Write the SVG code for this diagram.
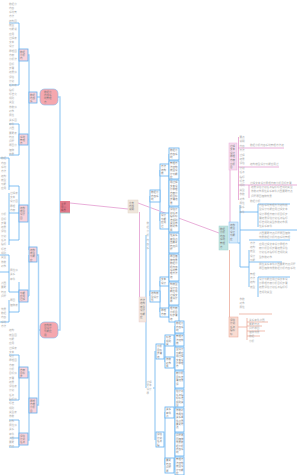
<svg xmlns="http://www.w3.org/2000/svg" width="300" height="475" viewBox="0 0 300 475">
<style>
.t{font-family:"Noto Sans CJK SC","Noto Sans",sans-serif;font-size:2.6px;fill:#ababab}
.tb{font-family:"Noto Sans CJK SC","Noto Sans",sans-serif;font-size:2.5px;fill:#7a7a7a}
.sp{fill:none;stroke:#a9d3f6;stroke-width:1.4}
.br{fill:none;stroke:#62b0f0;stroke-width:0.8}
.pk{fill:#f9d3db;stroke:#62b0f0;stroke-width:0.8}
.big{fill:#f5a7ae;stroke:#7cbcf2;stroke-width:0.6}
.wb{fill:#ffffff;stroke:#62b0f0;stroke-width:0.8}
.pl{fill:none;stroke:#e08cc8;stroke-width:0.7}
.sl{fill:none;stroke:#e9a08e;stroke-width:0.7}
</style>
<rect width="300" height="475" fill="#ffffff"/>

<g id="connectors">
  <path class="sp" d="M58 97 H60 V330 H58"/>
  <path class="sp" d="M60 207 H61"/>
  <path class="sp" d="M37 97 H40"/>
  <path class="sp" d="M40 330 H38.5 V255 H37 M38.5 330 V405 H37"/>
  <path class="sp" d="M28 55 H29 V250 M28 139.5 H29 M28 213 H29"/>
  <path class="sp" d="M28 296 H29 M29 255 V296"/>
  <path class="sp" d="M28 372 H29 V440 H28"/>
  <path class="br" d="M9 23 H19 V85 H9"/>
  <path class="br" d="M9 124 H19 V155 H9"/>
  <path class="br" d="M0 158 H9 V190 M9 186 H19 V240 H9 M9 193 V245 M9 213 H19"/>
  <path class="br" d="M0 255 H9 V292 H19 M9 272 H0 M19 282 V312 H9 M9 300 V322 H0"/>
  <path class="br" d="M9 355 H19 V400 H9"/>
  <path class="br" d="M9 420 H19 V447 H9 M10 438 H19"/>
  <path class="pl" d="M70 203 L128 209"/>
  <path class="pl" d="M138 203 L219 233"/>
  <path class="pl" d="M139.5 212 V297"/>
  <path class="sp" d="M146 235 V388"/>
  <path class="sp" d="M150 196 V296"/>
  <path class="sp" d="M160 170 V221"/>
  <path class="sp" d="M160 281 V312"/>
  <path class="sp" d="M155 351 V440 M153 388 H155"/>
  <path class="sp" d="M165 340 V362"/>
  <path class="sp" d="M165 412 V465"/>
  <path class="sp" d="M169 154 V318"/>
  <path class="sp" d="M175 326 V470"/>
  <path class="pl" d="M230 170 V222"/>
  <path class="sl" d="M229.5 250 V317"/>
  <path class="pl" d="M238.5 137 V200"/>
  <path class="pl" d="M238 148 H284 M238 167 H279 M238 185 H297 M249 185 V198"/>
  <path class="br" d="M238 243 H240 V267 H249 M240 205 V243 M249 250 V287 M240 212 H258 M258 204 H290 M258 204 V227 M249 240 H290 M249 262 H282 M258 277 H290 M258 277 V297 M240 230 H297"/>
  <path class="sl" d="M238 327 H247 M247 318 V340 M239 314 H272 M247 322 H268 M247 326 H262 M247 331 H265 M247 336 H260"/>
</g>

<g id="left-text">
<text class="t" y="4.5"><tspan x="9" dy="0">数据分</tspan><tspan x="9" dy="4.3">内容</tspan><tspan x="9" dy="4.3">系统管</tspan><tspan x="9" dy="4.3">方法</tspan><tspan x="9" dy="4.3">结构图</tspan><tspan x="9" dy="4.3">模型</tspan><tspan x="9" dy="4.3">功能说</tspan><tspan x="9" dy="4.3">应用</tspan><tspan x="9" dy="4.3">过程表</tspan><tspan x="9" dy="4.3">文本</tspan><tspan x="9" dy="4.3">设计</tspan><tspan x="9" dy="4.3">原理图</tspan><tspan x="9" dy="4.3">方案</tspan><tspan x="9" dy="4.3">分析法</tspan><tspan x="9" dy="4.3">目标</tspan><tspan x="9" dy="4.3">步骤</tspan><tspan x="9" dy="4.3">结果值</tspan><tspan x="9" dy="4.3">评估</tspan><tspan x="9" dy="4.3">计划</tspan><tspan x="9" dy="4.3">任务表</tspan><tspan x="9" dy="4.3">指标</tspan><tspan x="9" dy="4.3">标准化</tspan><tspan x="9" dy="4.3">规则</tspan><tspan x="9" dy="4.3">类型</tspan><tspan x="9" dy="4.3">参数值</tspan><tspan x="9" dy="4.3">对象</tspan><tspan x="9" dy="4.3">属性</tspan><tspan x="9" dy="4.3">关系图</tspan><tspan x="9" dy="4.3">条件</tspan><tspan x="9" dy="4.3">范围</tspan><tspan x="9" dy="4.3">要素表</tspan><tspan x="9" dy="4.3">特点</tspan><tspan x="9" dy="4.3">问题</tspan><tspan x="9" dy="4.3">原因分</tspan><tspan x="9" dy="4.3">措施</tspan><tspan x="9" dy="4.3">效果</tspan></text>
<text class="t" y="159.3"><tspan x="1" dy="0">数据</tspan><tspan x="1" dy="4.3">内容</tspan><tspan x="1" dy="4.3">系统</tspan><tspan x="1" dy="4.3">方法</tspan><tspan x="1" dy="4.3">结构</tspan><tspan x="1" dy="4.3">模型</tspan><tspan x="1" dy="4.3">功能</tspan><tspan x="1" dy="4.3">应用</tspan><tspan x="10" dy="4.3">过程表</tspan><tspan x="10" dy="4.3">文本</tspan><tspan x="10" dy="4.3">设计图</tspan><tspan x="10" dy="4.3">原理</tspan><tspan x="10" dy="4.3">方案</tspan><tspan x="1" dy="4.3">分析</tspan><tspan x="1" dy="4.3">目标</tspan><tspan x="1" dy="4.3">步骤</tspan><tspan x="1" dy="4.3">结果</tspan><tspan x="1" dy="4.3">评估</tspan><tspan x="1" dy="4.3">计划</tspan><tspan x="1" dy="4.3">任务</tspan><tspan x="1" dy="4.3">指标</tspan><tspan x="1" dy="4.3">标准</tspan><tspan x="1" dy="4.3">规则</tspan><tspan x="1" dy="4.3">类型</tspan><tspan x="1" dy="4.3">参数</tspan><tspan x="1" dy="4.3">对象</tspan><tspan x="10" dy="4.3">属性值</tspan><tspan x="10" dy="4.3">关系</tspan><tspan x="10" dy="4.3">条件</tspan><tspan x="1" dy="4.3">范围</tspan><tspan x="1" dy="4.3">要素</tspan><tspan x="1" dy="4.3">特点</tspan><tspan x="1" dy="4.3">问题</tspan><tspan x="10" dy="4.3">原因</tspan><tspan x="10" dy="4.3">措施表</tspan><tspan x="1" dy="4.3">效果</tspan><tspan x="1" dy="4.3">数据</tspan><tspan x="1" dy="4.3">内容</tspan><tspan x="1" dy="4.3">系统</tspan><tspan x="1" dy="4.3">方法</tspan></text>
<text class="t" y="331.3"><tspan x="9" dy="0">结构</tspan><tspan x="9" dy="4.3">模型图</tspan><tspan x="9" dy="4.3">功能</tspan><tspan x="9" dy="4.3">应用</tspan><tspan x="9" dy="4.3">过程表</tspan><tspan x="9" dy="4.3">文本</tspan><tspan x="9" dy="4.3">设计</tspan><tspan x="9" dy="4.3">原理图</tspan><tspan x="9" dy="4.3">方案</tspan><tspan x="9" dy="4.3">分析</tspan><tspan x="9" dy="4.3">目标值</tspan><tspan x="9" dy="4.3">步骤</tspan><tspan x="9" dy="4.3">结果</tspan><tspan x="9" dy="4.3">评估表</tspan><tspan x="9" dy="4.3">计划</tspan><tspan x="9" dy="4.3">任务</tspan><tspan x="9" dy="4.3">指标值</tspan><tspan x="9" dy="4.3">标准</tspan><tspan x="9" dy="4.3">规则</tspan><tspan x="9" dy="4.3">类型表</tspan><tspan x="9" dy="4.3">参数</tspan><tspan x="9" dy="4.3">对象</tspan><tspan x="9" dy="4.3">属性值</tspan><tspan x="9" dy="4.3">关系</tspan><tspan x="9" dy="4.3">条件</tspan><tspan x="9" dy="4.3">范围</tspan><tspan x="9" dy="4.3">要素</tspan><tspan x="9" dy="4.3">特点</tspan></text>
</g>

<g id="node-C1"><rect class="pk" x="19" y="49" width="9" height="12"/><text class="tb" y="52.6"><tspan x="20" dy="0">数据</tspan><tspan x="20" dy="3.3">分析</tspan><tspan x="20" dy="3.3">内</tspan></text></g>
<g id="node-C2"><rect class="pk" x="19" y="134" width="9" height="11"/><text class="tb" y="137.6"><tspan x="20" dy="0">系统</tspan><tspan x="20" dy="3.3">管理</tspan><tspan x="20" dy="3.3">方</tspan></text></g>
<g id="node-C3"><rect class="pk" x="19" y="205" width="9" height="17"/><text class="tb" y="208.6"><tspan x="20" dy="0">结构</tspan><tspan x="20" dy="3.3">模型</tspan><tspan x="20" dy="3.3">设计</tspan><tspan x="20" dy="3.3">图</tspan></text></g>
<g id="node-C4"><rect class="pk" x="19" y="290" width="9" height="12"/><text class="tb" y="293.6"><tspan x="20" dy="0">功能</tspan><tspan x="20" dy="3.3">应用</tspan><tspan x="20" dy="3.3">过程</tspan></text></g>
<g id="node-C5"><rect class="pk" x="19" y="367" width="9" height="11"/><text class="tb" y="370.6"><tspan x="20" dy="0">方案</tspan><tspan x="20" dy="3.3">目标</tspan><tspan x="20" dy="3.3">步</tspan></text></g>
<g id="node-C6"><rect class="pk" x="19" y="433" width="9" height="12"/><text class="tb" y="436.6"><tspan x="20" dy="0">评估</tspan><tspan x="20" dy="3.3">计划</tspan><tspan x="20" dy="3.3">任务</tspan></text></g>
<g id="node-A1"><rect class="pk" x="29" y="92" width="8" height="11"/><text class="tb" y="95.6"><tspan x="30" dy="0">数据</tspan><tspan x="30" dy="3.3">内容</tspan><tspan x="30" dy="3.3">系</tspan></text></g>
<g id="node-A2"><rect class="pk" x="29" y="247" width="8" height="15"/><text class="tb" y="250.6"><tspan x="30" dy="0">结构</tspan><tspan x="30" dy="3.3">模型</tspan><tspan x="30" dy="3.3">功能</tspan><tspan x="30" dy="3.3">应</tspan></text></g>
<g id="node-B2"><rect class="pk" x="29" y="398" width="8" height="15"/><text class="tb" y="401.6"><tspan x="30" dy="0">原理</tspan><tspan x="30" dy="3.3">方案</tspan><tspan x="30" dy="3.3">分析</tspan><tspan x="30" dy="3.3">目</tspan></text></g>
<g id="node-A"><rect class="big" x="40" y="89" width="18" height="16" rx="4.5"/><text class="tb" y="92.8"><tspan x="44" dy="0">数据分</tspan><tspan x="44" dy="3.3">内容系</tspan><tspan x="44" dy="3.3">统管理</tspan><tspan x="44" dy="3.3">方</tspan></text></g>
<g id="node-B"><rect class="big" x="40" y="322" width="18" height="16" rx="4.5"/><text class="tb" y="325.8"><tspan x="44" dy="0">结构模</tspan><tspan x="44" dy="3.3">型设计</tspan><tspan x="44" dy="3.3">功能应</tspan><tspan x="44" dy="3.3">用</tspan></text></g>
<g id="node-root"><rect x="60" y="201" width="10" height="12" fill="#e27a8a"/><path d="M60 213 H70" stroke="#8fd3c8" stroke-width="0.8"/><text class="tb" y="204.6" style="fill:#8a4a54"><tspan x="61" dy="0">主题</tspan><tspan x="61" dy="3.3">中心</tspan><tspan x="61" dy="3.3">概念</tspan></text></g>

<g id="node-M"><rect x="128" y="200" width="10" height="13" fill="#efe6dc" stroke="#e4d8ca" stroke-width="0.5"/><text class="tb" y="203.6"><tspan x="129" dy="0">分支</tspan><tspan x="129" dy="3.3">内容</tspan><tspan x="129" dy="3.3">说明</tspan></text></g>
<g id="node-D"><rect x="139" y="297" width="7" height="25" fill="#f3e7df" stroke="#e8c8c8" stroke-width="0.4"/><text class="tb" y="300.6"><tspan x="140" dy="0">方法</tspan><tspan x="140" dy="3.5">结构</tspan><tspan x="140" dy="3.5">模型</tspan><tspan x="140" dy="3.5">设计</tspan><tspan x="140" dy="3.5">功能</tspan><tspan x="140" dy="3.5">应</tspan></text></g>
<g id="node-T1"><text class="t" y="223.5"><tspan x="146.6" dy="0">数</tspan><tspan x="146.6" dy="4.3">据</tspan><tspan x="146.6" dy="4.3">分</tspan><tspan x="146.6" dy="4.3">析</tspan><tspan x="146.6" dy="4.3">内</tspan><tspan x="146.6" dy="4.3">容</tspan><tspan x="146.6" dy="4.3">系</tspan></text></g>
<g id="node-T2"><text class="t" y="382.5"><tspan x="146.5" dy="0">过程</tspan><tspan x="146.5" dy="3.8">文本</tspan><tspan x="146.5" dy="3.8">设计</tspan><tspan x="146.5" dy="3.8">原</tspan></text></g>

<g id="node-K1"><rect class="wb" x="150" y="190" width="10" height="12"/><text class="tb" y="193.3"><tspan x="151" dy="0">数据分</tspan><tspan x="151" dy="3.4">内容系</tspan><tspan x="151" dy="3.4">统</tspan></text></g>
<g id="node-K2"><rect class="wb" x="150" y="291" width="10" height="11"/><text class="tb" y="294.3"><tspan x="151" dy="0">结构模</tspan><tspan x="151" dy="3.4">型设计</tspan><tspan x="151" dy="3.4">功</tspan></text></g>
<g id="node-N1"><rect class="wb" x="160" y="164" width="9" height="12"/><text class="tb" y="167.3"><tspan x="161" dy="0">方法</tspan><tspan x="161" dy="3.4">结构</tspan><tspan x="161" dy="3.4">模</tspan></text></g>
<g id="node-N2"><rect class="wb" x="160" y="213" width="9" height="16"/><text class="tb" y="216.3"><tspan x="161" dy="0">设计</tspan><tspan x="161" dy="3.4">功能</tspan><tspan x="161" dy="3.4">应用</tspan><tspan x="161" dy="3.4">过</tspan></text></g>
<g id="node-N3"><rect class="wb" x="160" y="277" width="9" height="9"/><text class="tb" y="280.3"><tspan x="161" dy="0">文本</tspan><tspan x="161" dy="3.4">设计</tspan></text></g>
<g id="node-N4"><rect class="wb" x="160" y="308" width="9" height="9"/><text class="tb" y="311.3"><tspan x="161" dy="0">原理</tspan><tspan x="161" dy="3.4">方案</tspan></text></g>
<g id="node-L1"><rect class="wb" x="156" y="344" width="8" height="15"/><text class="tb" y="347.3"><tspan x="157" dy="0">分析</tspan><tspan x="157" dy="3.4">目标</tspan><tspan x="157" dy="3.4">步骤</tspan><tspan x="157" dy="3.4">结</tspan></text></g>
<g id="node-L2"><rect class="wb" x="156" y="432" width="8" height="15"/><text class="tb" y="435.3"><tspan x="157" dy="0">评估</tspan><tspan x="157" dy="3.4">计划</tspan><tspan x="157" dy="3.4">任务</tspan><tspan x="157" dy="3.4">指</tspan></text></g>
<g id="node-O1"><rect class="wb" x="165" y="335" width="9" height="11"/><text class="tb" y="338.3"><tspan x="166" dy="0">标准</tspan><tspan x="166" dy="3.4">规则</tspan><tspan x="166" dy="3.4">类</tspan></text></g>
<g id="node-O2"><rect class="wb" x="165" y="357" width="9" height="11"/><text class="tb" y="360.3"><tspan x="166" dy="0">参数</tspan><tspan x="166" dy="3.4">对象</tspan><tspan x="166" dy="3.4">属</tspan></text></g>
<g id="node-O3"><rect class="wb" x="165" y="407" width="9" height="11"/><text class="tb" y="410.3"><tspan x="166" dy="0">关系</tspan><tspan x="166" dy="3.4">条件</tspan><tspan x="166" dy="3.4">范</tspan></text></g>
<g id="node-O4"><rect class="wb" x="165" y="458" width="9" height="15"/><text class="tb" y="461.3"><tspan x="166" dy="0">要素</tspan><tspan x="166" dy="3.4">特点</tspan><tspan x="166" dy="3.4">问题</tspan><tspan x="166" dy="3.4">原</tspan></text></g>

<g id="column-a">
<g id="node-CA1"><rect class="wb" x="169" y="148" width="10" height="12"/><text class="tb" y="151.3"><tspan x="170" dy="0">数据分</tspan><tspan x="170" dy="3.4">内容系</tspan><tspan x="170" dy="3.4">统</tspan></text></g>
<g id="node-CA2"><rect class="wb" x="169" y="161" width="10" height="18"/><text class="tb" y="164.3"><tspan x="170" dy="0">管理方</tspan><tspan x="170" dy="3.4">法结构</tspan><tspan x="170" dy="3.4">模型设</tspan><tspan x="170" dy="3.4">计功能</tspan><tspan x="170" dy="3.4">应</tspan></text></g>
<g id="node-CA3"><rect class="wb" x="169" y="180" width="10" height="26"/><text class="tb" y="183.3"><tspan x="170" dy="0">用过程</tspan><tspan x="170" dy="3.4">文本设</tspan><tspan x="170" dy="3.4">计原理</tspan><tspan x="170" dy="3.4">方案分</tspan><tspan x="170" dy="3.4">析目标</tspan><tspan x="170" dy="3.4">步骤结</tspan><tspan x="170" dy="3.4">果</tspan></text></g>
<g id="node-CA4"><rect class="wb" x="169" y="207" width="10" height="25"/><text class="tb" y="210.3"><tspan x="170" dy="0">评估计</tspan><tspan x="170" dy="3.4">划任务</tspan><tspan x="170" dy="3.4">指标标</tspan><tspan x="170" dy="3.4">准规则</tspan><tspan x="170" dy="3.4">类型参</tspan><tspan x="170" dy="3.4">数对象</tspan><tspan x="170" dy="3.4">属</tspan></text></g>
<g id="node-CA5"><rect class="wb" x="169" y="233" width="10" height="20"/><text class="tb" y="236.3"><tspan x="170" dy="0">性关系</tspan><tspan x="170" dy="3.4">条件范</tspan><tspan x="170" dy="3.4">围要素</tspan><tspan x="170" dy="3.4">特点问</tspan><tspan x="170" dy="3.4">题</tspan></text></g>
<g id="node-CA6"><rect class="wb" x="169" y="254" width="10" height="27"/><text class="tb" y="257.3"><tspan x="170" dy="0">原因措</tspan><tspan x="170" dy="3.4">施效果</tspan><tspan x="170" dy="3.4">数据分</tspan><tspan x="170" dy="3.4">析内容</tspan><tspan x="170" dy="3.4">系统管</tspan><tspan x="170" dy="3.4">理方法</tspan><tspan x="170" dy="3.4">结</tspan></text></g>
<g id="node-CA7"><rect class="wb" x="169" y="282" width="10" height="23"/><text class="tb" y="285.3"><tspan x="170" dy="0">构模型</tspan><tspan x="170" dy="3.4">设计功</tspan><tspan x="170" dy="3.4">能应用</tspan><tspan x="170" dy="3.4">过程文</tspan><tspan x="170" dy="3.4">本设计</tspan><tspan x="170" dy="3.4">原</tspan></text></g>
<g id="node-CA8"><rect class="wb" x="169" y="306" width="10" height="16"/><text class="tb" y="309.3"><tspan x="170" dy="0">理方案</tspan><tspan x="170" dy="3.4">分析目</tspan><tspan x="170" dy="3.4">标步骤</tspan><tspan x="170" dy="3.4">结</tspan></text></g>
</g>
<g id="column-b">
<g id="node-CB1"><rect class="wb" x="175" y="321" width="9" height="12"/><text class="tb" y="324.3"><tspan x="176" dy="0">数据分</tspan><tspan x="176" dy="3.4">内容系</tspan><tspan x="176" dy="3.4">统</tspan></text></g>
<g id="node-CB2"><rect class="wb" x="175" y="334" width="9" height="12"/><text class="tb" y="337.3"><tspan x="176" dy="0">管理方</tspan><tspan x="176" dy="3.4">法结构</tspan><tspan x="176" dy="3.4">模</tspan></text></g>
<g id="node-CB3"><rect class="wb" x="175" y="347" width="9" height="23"/><text class="tb" y="350.3"><tspan x="176" dy="0">型设计</tspan><tspan x="176" dy="3.4">功能应</tspan><tspan x="176" dy="3.4">用过程</tspan><tspan x="176" dy="3.4">文本设</tspan><tspan x="176" dy="3.4">计原理</tspan><tspan x="176" dy="3.4">方</tspan></text></g>
<g id="node-CB4"><rect class="wb" x="175" y="371" width="9" height="17"/><text class="tb" y="374.3"><tspan x="176" dy="0">案分析</tspan><tspan x="176" dy="3.4">目标步</tspan><tspan x="176" dy="3.4">骤结果</tspan><tspan x="176" dy="3.4">评</tspan></text></g>
<g id="node-CB5"><rect class="wb" x="175" y="389" width="9" height="18"/><text class="tb" y="392.3"><tspan x="176" dy="0">估计划</tspan><tspan x="176" dy="3.4">任务指</tspan><tspan x="176" dy="3.4">标标准</tspan><tspan x="176" dy="3.4">规则类</tspan><tspan x="176" dy="3.4">型</tspan></text></g>
<g id="node-CB6"><rect class="wb" x="175" y="408" width="9" height="24"/><text class="tb" y="411.3"><tspan x="176" dy="0">参数对</tspan><tspan x="176" dy="3.4">象属性</tspan><tspan x="176" dy="3.4">关系条</tspan><tspan x="176" dy="3.4">件范围</tspan><tspan x="176" dy="3.4">要素特</tspan><tspan x="176" dy="3.4">点</tspan></text></g>
<g id="node-CB7"><rect class="wb" x="175" y="433" width="9" height="23"/><text class="tb" y="436.3"><tspan x="176" dy="0">问题原</tspan><tspan x="176" dy="3.4">因措施</tspan><tspan x="176" dy="3.4">效果数</tspan><tspan x="176" dy="3.4">据分析</tspan><tspan x="176" dy="3.4">内容系</tspan><tspan x="176" dy="3.4">统</tspan></text></g>
<g id="node-CB8"><rect class="wb" x="175" y="457" width="9" height="18"/><text class="tb" y="460.3"><tspan x="176" dy="0">管理方</tspan><tspan x="176" dy="3.4">法结构</tspan><tspan x="176" dy="3.4">模型设</tspan><tspan x="176" dy="3.4">计功能</tspan><tspan x="176" dy="3.4">应</tspan></text></g>
</g>

<g id="node-E"><rect x="219" y="226" width="9" height="24" fill="#bfe3e1" stroke="#a2d3ce" stroke-width="0.5"/><text class="tb" y="229.6"><tspan x="220" dy="0">数据</tspan><tspan x="220" dy="3.6">分析</tspan><tspan x="220" dy="3.6">内容</tspan><tspan x="220" dy="3.6">系统</tspan><tspan x="220" dy="3.6">管理</tspan><tspan x="220" dy="3.6">方</tspan></text></g>
<g id="node-Q"><rect x="229" y="222" width="9" height="21" fill="#d5eafb" stroke="#7cbcf2" stroke-width="0.5"/><text class="tb" y="225.6"><tspan x="230" dy="0">结构</tspan><tspan x="230" dy="3.6">模型</tspan><tspan x="230" dy="3.6">设计</tspan><tspan x="230" dy="3.6">功能</tspan><tspan x="230" dy="3.6">应</tspan></text></g>
<g id="node-P"><rect x="229" y="143" width="8" height="27" fill="#f6dcee" stroke="#eab0dc" stroke-width="0.5"/><text class="tb" y="146.6"><tspan x="230" dy="0">过程</tspan><tspan x="230" dy="3.6">文本</tspan><tspan x="230" dy="3.6">设计</tspan><tspan x="230" dy="3.6">原理</tspan><tspan x="230" dy="3.6">方案</tspan><tspan x="230" dy="3.6">分析</tspan><tspan x="230" dy="3.6">目</tspan></text></g>
<g id="node-S"><rect x="229" y="317" width="9" height="20" fill="#f9dcd2" stroke="#eaa592" stroke-width="0.5"/><text class="tb" y="320.6"><tspan x="230" dy="0">评估</tspan><tspan x="230" dy="3.6">计划</tspan><tspan x="230" dy="3.6">任务</tspan><tspan x="230" dy="3.6">指标</tspan><tspan x="230" dy="3.6">标</tspan></text></g>

<g id="right-text">
<text class="t" y="138"><tspan x="239.5" dy="0">要点</tspan><tspan x="239.5" dy="4.4">说明</tspan><tspan x="239.5" dy="4.4">内容</tspan><tspan x="239.5" dy="4.4">方法</tspan><tspan x="239.5" dy="4.4">过程</tspan><tspan x="239.5" dy="4.4">结果</tspan><tspan x="239.5" dy="4.4">评估</tspan><tspan x="239.5" dy="4.4">计划</tspan><tspan x="239.5" dy="4.4">任务</tspan><tspan x="239.5" dy="4.4">指标</tspan><tspan x="239.5" dy="4.4">标准</tspan><tspan x="239.5" dy="4.4">规则</tspan><tspan x="239.5" dy="4.4">类型</tspan><tspan x="239.5" dy="4.4">参数</tspan><tspan x="239.5" dy="4.4">对象</tspan><tspan x="239.5" dy="4.4">属性</tspan><tspan x="239.5" dy="4.4">关系</tspan><tspan x="239.5" dy="4.4">条件</tspan></text>
<text class="t" y="146"><tspan x="250" dy="0">数据分析内容系统管理方法结</tspan></text>
<text class="t" y="165"><tspan x="250" dy="0">结构模型设计功能应用过</tspan></text>
<text class="t" y="184"><tspan x="250" dy="0">过程文本设计原理方案分析目标步骤</tspan><tspan x="251" dy="4.2">结果评估计划任务指标标准规则类型</tspan><tspan x="251" dy="4.2">参数对象属性关系条件范围要素特点</tspan><tspan x="251" dy="4.2">问题原因措施效果</tspan></text>
<text class="t" y="202"><tspan x="250" dy="0">数据分析</tspan><tspan x="259" dy="4.2">内容系统管理方法结构模</tspan><tspan x="259" dy="4.2">型设计功能应用过程文本</tspan><tspan x="259" dy="4.2">设计原理方案分析目标步</tspan><tspan x="259" dy="4.2">骤结果评估计划任务指标</tspan><tspan x="259" dy="4.2">标准规则类型参数对象属</tspan><tspan x="259" dy="4.2">性关系条件</tspan></text>
<text class="t" y="234"><tspan x="259" dy="0">范围要素特点问题原因措施</tspan><tspan x="259" dy="4.2">效果数据分析内容系统管理</tspan></text>
<text class="t" y="244"><tspan x="250" dy="0">方法</tspan><tspan x="250" dy="4.2">结构</tspan><tspan x="250" dy="4.2">模型</tspan><tspan x="250" dy="4.2">设计</tspan><tspan x="250" dy="4.2">功能</tspan></text>
<text class="t" y="245"><tspan x="259" dy="0">应用过程文本设计原理方</tspan><tspan x="259" dy="4.2">案分析目标步骤结果评估</tspan><tspan x="259" dy="4.2">计划任务指标标准规则类</tspan><tspan x="259" dy="4.2">型参数对象</tspan></text>
<text class="t" y="265"><tspan x="259" dy="0">属性关系条件范围要素特点问题</tspan><tspan x="259" dy="4.2">原因措施效果数据分析内容系统</tspan></text>
<text class="t" y="275"><tspan x="250" dy="0">管理</tspan><tspan x="250" dy="4.2">方法</tspan><tspan x="250" dy="4.2">结构</tspan><tspan x="250" dy="4.2">模型</tspan></text>
<text class="t" y="280"><tspan x="259" dy="0">设计功能应用过程文本设</tspan><tspan x="259" dy="4.2">计原理方案分析目标步骤</tspan><tspan x="259" dy="4.2">结果评估计划任务指标标</tspan><tspan x="259" dy="4.2">准规则类型</tspan></text>
<text class="t" y="300"><tspan x="239.5" dy="0">参数</tspan><tspan x="239.5" dy="4.2">对象</tspan><tspan x="239.5" dy="4.2">属性</tspan></text>
<text class="t" y="320.5"><tspan x="249" dy="0">关系条件范围</tspan><tspan x="249" dy="4.2">要素特点</tspan><tspan x="249" dy="4.2">问题原因</tspan><tspan x="249" dy="4.2">措施效果</tspan><tspan x="249" dy="4.2">数据</tspan><tspan x="249" dy="4.2">分析</tspan></text>
</g>
</svg>
